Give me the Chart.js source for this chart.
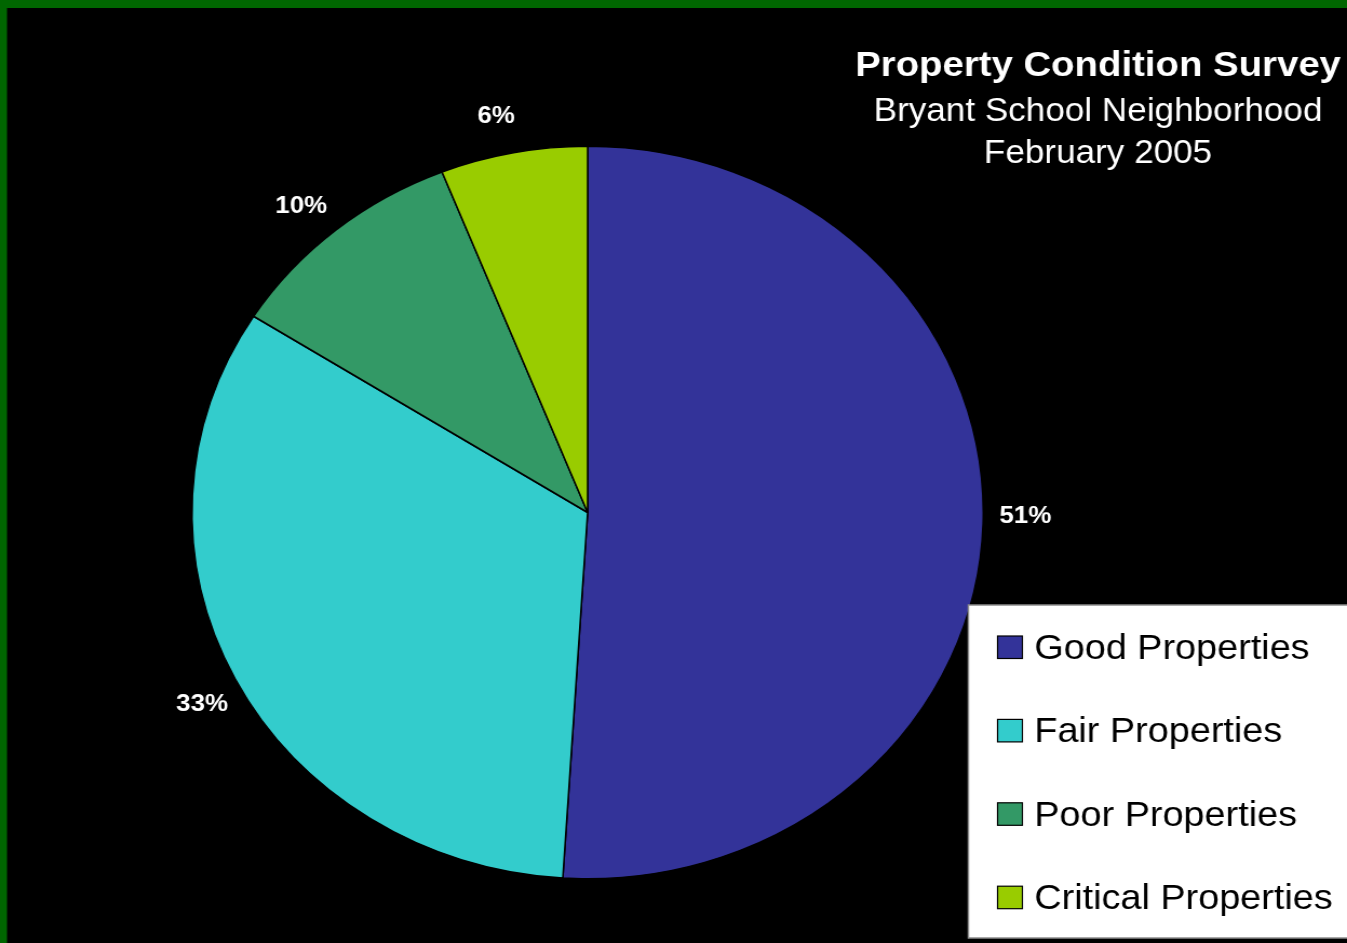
<!DOCTYPE html>
<html>
<head>
<meta charset="utf-8">
<script src="https://cdn.jsdelivr.net/npm/chart.js@4.4.0/dist/chart.umd.min.js"></script>
<style>
  html, body { margin: 0; padding: 0; background: #000; overflow: hidden; }
  /* the reference is stretched a bit sideways (oval pie, wide text) */
  #wrap { position: absolute; left: 0; top: 0; transform: scaleX(1.0802); transform-origin: 0 0; }
</style>
</head>
<body>
<div id="wrap"><canvas id="pie" width="1247" height="943"></canvas></div>
<script>
// data
const categories = ['Good Properties', 'Fair Properties', 'Poor Properties', 'Critical Properties'];
const shares = [51, 33, 10, 6];
const sliceColors = ['#333399', '#33CCCC', '#339966', '#99CC00'];
const titleText = 'Property Condition Survey';
const subtitleLines = ['Bryant School Neighborhood', 'February 2005'];

const FONT = '"Liberation Sans", Arial, sans-serif';

// black page with the green frame top/left
const backdrop = {
  id: 'backdrop',
  beforeDraw(chart) {
    const ctx = chart.ctx;
    ctx.save();
    ctx.fillStyle = '#000';
    ctx.fillRect(0, 0, chart.width, chart.height);
    ctx.fillStyle = '#006600';
    ctx.fillRect(0, 0, chart.width, 8);
    ctx.fillRect(0, 0, 6.5, chart.height);
    ctx.restore();
  }
};

// percent labels outside each slice
const pctLabels = {
  id: 'pctLabels',
  afterDatasetsDraw(chart) {
    const ctx = chart.ctx;
    const meta = chart.getDatasetMeta(0);
    const vals = chart.data.datasets[0].data;
    const total = vals.reduce((a, b) => a + b, 0);
    ctx.save();
    ctx.fillStyle = '#fff';
    ctx.font = 'bold 24px ' + FONT;
    ctx.textAlign = 'center';
    ctx.textBaseline = 'middle';
    meta.data.forEach((arc, i) => {
      // excel nudges the labels a little back toward the start
      const mid = (arc.startAngle + arc.endAngle) / 2 - 0.022;
      const d = arc.outerRadius + 39;
      const x = arc.x + Math.cos(mid) * d;
      const y = arc.y + Math.sin(mid) * d;
      ctx.fillText(Math.round(vals[i] / total * 100) + '%', x, y);
    });
    ctx.restore();
  }
};

// title block top right
const titleBlock = {
  id: 'titleBlock',
  afterDraw(chart) {
    const ctx = chart.ctx;
    const cx = 1016.5;
    ctx.save();
    ctx.fillStyle = '#fff';
    ctx.textAlign = 'center';
    ctx.textBaseline = 'middle';
    ctx.font = 'bold 35.5px ' + FONT;
    ctx.fillText(titleText, cx, 66);
    ctx.font = '32.5px ' + FONT;
    ctx.fillText(subtitleLines[0], cx, 112);
    ctx.fillText(subtitleLines[1], cx, 154);
    ctx.restore();
  }
};

// white legend box bottom right
const boxLegend = {
  id: 'boxLegend',
  afterDraw(chart) {
    const ctx = chart.ctx;
    const labels = chart.data.labels;
    const colors = chart.data.datasets[0].backgroundColor;
    ctx.save();
    ctx.fillStyle = '#fff';
    ctx.fillRect(896.5, 605, 400, 333);
    ctx.strokeStyle = '#8c8c8c';
    ctx.lineWidth = 1.5;
    ctx.strokeRect(896.5, 605, 400, 333);
    ctx.font = '35px ' + FONT;
    ctx.textAlign = 'left';
    ctx.textBaseline = 'alphabetic';
    labels.forEach((lab, i) => {
      const base = 659 + i * 83.4;
      ctx.fillStyle = colors[i];
      ctx.fillRect(923.5, base - 23, 23, 22.5);
      ctx.strokeStyle = '#000';
      ctx.lineWidth = 1.2;
      ctx.strokeRect(923.5, base - 23, 23, 22.5);
      ctx.fillStyle = '#000';
      ctx.fillText(lab, 957.5, base);
    });
    ctx.restore();
  }
};

new Chart(document.getElementById('pie'), {
  type: 'pie',
  data: {
    labels: categories,
    datasets: [{
      data: shares,
      backgroundColor: sliceColors,
      borderColor: '#000',
      borderWidth: 1.5
    }]
  },
  options: {
    responsive: false,
    animation: false,
    layout: { padding: { left: 177, right: 336, top: 145.5, bottom: 63.5 } },
    plugins: {
      legend: { display: false },
      tooltip: { enabled: false },
      title: { display: false }
    }
  },
  plugins: [backdrop, pctLabels, titleBlock, boxLegend]
});
</script>
</body>
</html>
